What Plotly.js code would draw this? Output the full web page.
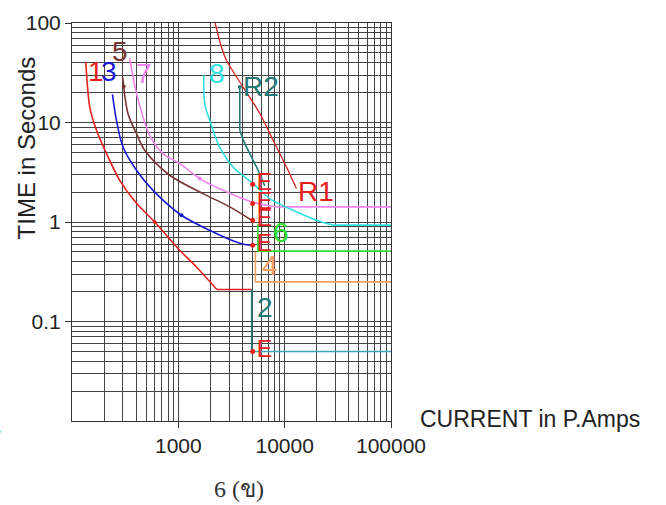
<!DOCTYPE html>
<html>
<head>
<meta charset="utf-8">
<script src="https://cdn.plot.ly/plotly-3.0.1.min.js"></script>
<style>html,body{margin:0;padding:0;background:#fff;}#chart{width:666px;height:505px;}</style>
</head>
<body>
<div id="chart"></div>
<script>
// ---- data (current in primary amps, time in seconds) ----
const curve1X = [135, 147, 170, 226, 281, 404, 600, 1030, 1480, 2300, 4900];
const curve1Y = [40.5, 14.3, 8.35, 4.17, 2.62, 1.54, 1.0, 0.52, 0.353, 0.21, 0.21];

const curve3X = [240, 262, 302, 404, 578, 1069, 1972, 3044, 4220, 4900];
const curve3Y = [19.2, 10.5, 5.67, 3.31, 2.08, 1.17, 0.825, 0.666, 0.593, 0.583];

const curve5X = [300, 336, 404, 483, 830, 1707, 3048, 4900];
const curve5Y = [28.5, 12.3, 7.73, 5.26, 2.95, 1.93, 1.42, 1.04];

const curve7X = [349, 404, 538, 718, 1031, 1589, 2633, 5000, 8400, 100000];
const curve7Y = [44, 19.6, 7.43, 4.87, 3.87, 2.73, 2.08, 1.58, 1.42, 1.42];

const curve8X = [1734, 1771, 1972, 2449, 3270, 5046, 7244, 12000, 19900, 28500, 100000];
const curve8Y = [29.8, 15.5, 10.5, 5.67, 3.57, 2.43, 1.72, 1.31, 1.04, 0.93, 0.93];

const curveR2X = [3784, 3784, 4220, 4875, 5625, 6500];
const curveR2Y = [22.7, 8.35, 6.14, 4.5, 3.31, 2.3];

const curveR1X = [2220, 2543, 2833, 4063, 5838, 7787, 10400, 12900];
const curveR1Y = [100, 57.4, 42.2, 22.7, 12.3, 6.62, 3.57, 2.17];

const curve6X = [5600, 5600, 100000];
const curve6Y = [0.95, 0.51, 0.51];

const curve4X = [5300, 5300, 100000];
const curve4Y = [0.5, 0.25, 0.25];

const curve2X = [4900, 4900, 100000];
const curve2Y = [0.21, 0.05, 0.05];

const endX = [5000, 5000, 5000, 5000, 5000];
const endY = [2.4, 1.53, 1.04, 0.583, 0.05];
const endText = ['E', 'E', 'E', 'E', 'E'];

const dotX = [600, 1069, 1589, 306, 3784];
const dotY = [1.0, 1.17, 2.73, 23, 22.7];

const xTickVals = [1000, 10000, 100000];
const xTickText = ['1000', '10000', '100000'];
const yTickVals = [100, 10, 1, 0.1];
const yTickText = ['100', '10', '1', '0.1'];

// ---- traces ----
function line(x, y, color, w) {
  return {x: x, y: y, type: 'scatter', mode: 'lines',
          line: {color: color, width: w || 1.6}, hoverinfo: 'skip'};
}
function curve(x, y, color, w) {
  return {x: x, y: y, type: 'scatter', mode: 'lines',
          line: {color: color, width: w || 1.6, shape: 'spline', smoothing: 0.9}, hoverinfo: 'skip'};
}
const traces = [
  curve(curve1X.slice(0, 10), curve1Y.slice(0, 10), '#e3201c'),
  line(curve1X.slice(9), curve1Y.slice(9), '#e3201c'),
  curve(curve3X, curve3Y, '#1a1ad6'),
  curve(curve5X, curve5Y, '#7b3434'),
  curve(curve7X.slice(0, 9), curve7Y.slice(0, 9), '#ee84ee'),
  line(curve7X.slice(8), curve7Y.slice(8), '#ee84ee'),
  curve(curve8X.slice(0, 10), curve8Y.slice(0, 10), '#2ee0e0'),
  line(curve8X.slice(9), curve8Y.slice(9), '#2ee0e0'),
  line(curveR2X.slice(0, 2), curveR2Y.slice(0, 2), '#227a78'),
  curve(curveR2X.slice(1), curveR2Y.slice(1), '#227a78'),
  curve(curveR1X, curveR1Y, '#d62020', 1.3),
  line(curve6X, curve6Y, '#2ee02e'),
  line(curve4X, curve4Y, '#f4a064'),
  line(curve2X.slice(0, 2), curve2Y.slice(0, 2), '#227a78'),
  line(curve2X.slice(1), curve2Y.slice(1), '#3aa8b8'),
  {x: dotX, y: dotY, type: 'scatter', mode: 'markers',
   marker: {size: 4, color: ['#e3201c', '#1a1ad6', '#ee84ee', '#7b3434', '#227a78']}, hoverinfo: 'skip'},
  {x: endX, y: endY, text: endText, type: 'scatter', mode: 'markers+text',
   textposition: 'middle right', cliponaxis: false,
   textfont: {family: 'Liberation Sans, Arial, sans-serif', size: 23, color: '#e8201c'},
   marker: {size: 5, color: '#e8201c'}, hoverinfo: 'skip'}
];

// ---- labels ----
const lblFont = 'Liberation Sans, Arial, sans-serif';
function lbl(t, lx, ly, color, size) {
  return {text: t, x: lx, y: ly, xref: 'x', yref: 'y', showarrow: false,
          xanchor: 'center', yanchor: 'middle',
          font: {family: lblFont, size: size || 28, color: color}};
}
const annotations = [
  lbl('1', 2.228, 1.508, '#e3201c'),
  lbl('3', 2.352, 1.508, '#1a1ad6'),
  lbl('5', 2.453, 1.709, '#7b3434'),
  lbl('7', 2.675, 1.494, '#ee84ee'),
  lbl('8', 3.361, 1.494, '#2ee0e0'),
  lbl('R2', 3.775, 1.364, '#227a78'),
  lbl('R1', 4.297, 0.309, '#e3201c'),
  lbl('6', 3.968, -0.101, '#2ee02e'),
  lbl('4', 3.860, -0.435, '#f4a064'),
  lbl('2', 3.818, -0.857, '#227a78'),
  {text: 'TIME in Seconds', xref: 'paper', yref: 'paper', x: -0.144, y: 0.685,
   textangle: -90, showarrow: false, xanchor: 'center', yanchor: 'middle',
   font: {family: lblFont, size: 24, color: '#222'}},
  {text: 'CURRENT in P.Amps', xref: 'paper', yref: 'paper', x: 1.0846, y: 0.004,
   showarrow: false, xanchor: 'left', yanchor: 'middle',
   font: {family: lblFont, size: 23, color: '#222'}},
  {text: '6 (ข)', xref: 'paper', yref: 'paper', x: 0.5235, y: -0.1716,
   showarrow: false, xanchor: 'center', yanchor: 'middle',
   font: {family: 'Liberation Serif, serif', size: 24, color: '#333'}},
  {text: 's', xref: 'paper', yref: 'paper', x: -0.217, y: -0.017,
   showarrow: false, xanchor: 'right', yanchor: 'middle',
   font: {family: lblFont, size: 22, color: '#333'}}
];

const gridC = '#444';
const layout = {
  width: 666, height: 505,
  margin: {l: 72, r: 275, t: 23, b: 84},
  paper_bgcolor: '#fff', plot_bgcolor: '#fff',
  showlegend: false,
  xaxis: {
    type: 'log', range: [2, 5], autorange: false,
    tickvals: xTickVals, ticktext: xTickText,
    ticks: 'outside', ticklen: 6, tickcolor: '#333',
    showgrid: true, gridcolor: gridC, gridwidth: 1,
    minor: {dtick: 'D1', showgrid: true, gridcolor: gridC, gridwidth: 1, ticks: ''},
    showline: true, linecolor: '#333', linewidth: 1, mirror: true,
    zeroline: false,
    tickfont: {family: lblFont, size: 21, color: '#222'}
  },
  yaxis: {
    type: 'log', range: [-2, 2], autorange: false,
    tickvals: yTickVals, ticktext: yTickText,
    ticks: 'outside', ticklen: 6, tickcolor: '#333',
    showgrid: true, gridcolor: gridC, gridwidth: 1,
    minor: {dtick: 'D1', showgrid: true, gridcolor: gridC, gridwidth: 1, ticks: ''},
    showline: true, linecolor: '#333', linewidth: 1, mirror: true,
    zeroline: false,
    tickfont: {family: lblFont, size: 21, color: '#222'}
  },
  annotations: annotations
};

Plotly.newPlot('chart', traces, layout, {staticPlot: true, displayModeBar: false});
</script>
</body>
</html>
